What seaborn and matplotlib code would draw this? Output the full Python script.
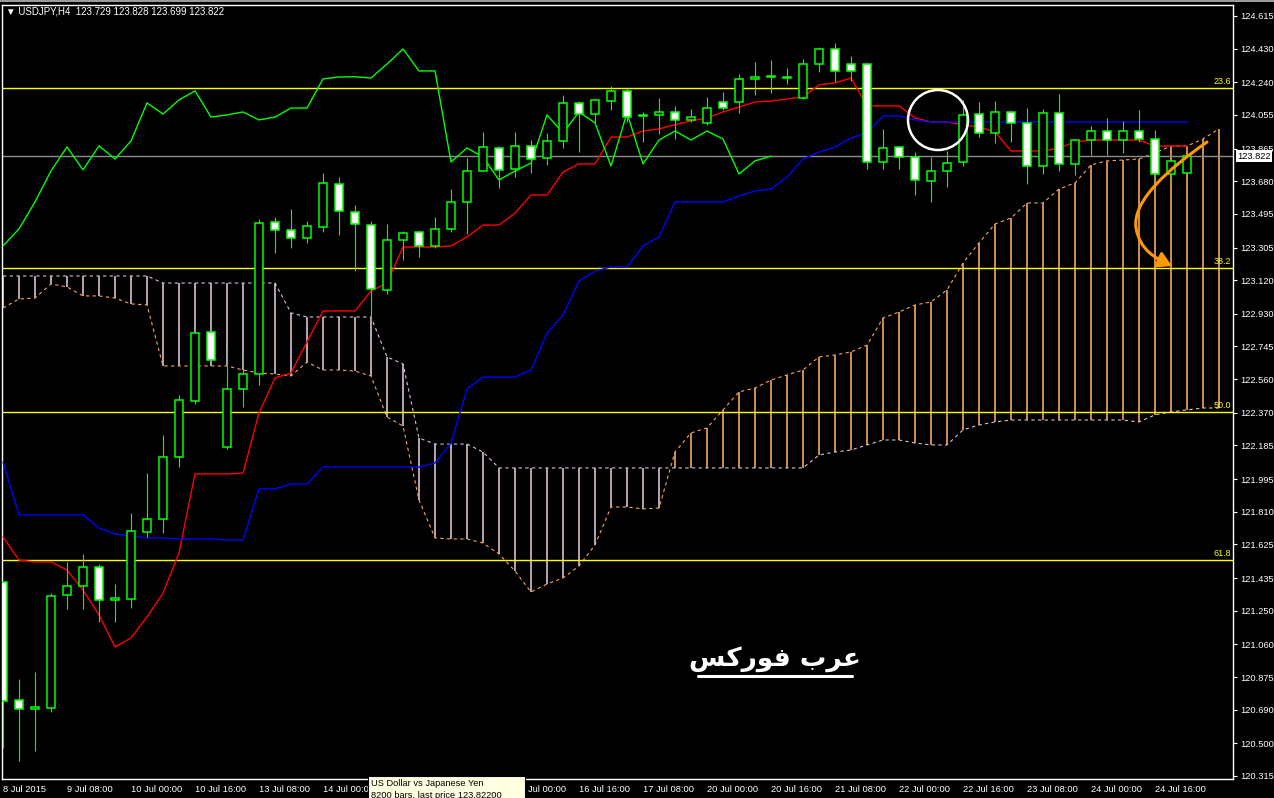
import numpy as np
import pandas as pd
import matplotlib
matplotlib.use('Agg')
import matplotlib.pyplot as plt
import seaborn as sns
from matplotlib.patches import Rectangle, Ellipse, FancyArrowPatch
from matplotlib.path import Path
from matplotlib.transforms import Affine2D, blended_transform_factory

# ---- data (USDJPY H4) ----
opens = [121.413, 120.745, 120.694, 120.700, 121.339, 121.390, 121.497, 121.311, 121.316, 121.695,
         121.769, 122.120, 122.437, 122.827, 122.176, 122.505, 122.589, 123.449, 123.404, 123.359,
         123.421, 123.665, 123.506, 123.432, 123.065, 123.348, 123.393, 123.314, 123.410, 123.563,
         123.738, 123.868, 123.749, 123.880, 123.812, 123.908, 124.123, 124.060, 124.134, 124.191,
         124.049, 124.055, 124.072, 124.027, 124.010, 124.128, 124.128, 124.259, 124.270, 124.271,
         124.151, 124.343, 124.428, 124.343, 124.343, 123.789, 123.874, 123.817, 123.681, 123.738,
         123.789, 124.060, 123.953, 124.072, 124.010, 123.766, 124.066, 123.778, 123.913, 123.964,
         123.913, 123.964, 123.919, 123.721, 123.729]
highs = [121.413, 120.864, 120.903, 121.350, 121.526, 121.571, 121.514, 121.401, 121.803, 122.029,
         122.244, 122.471, 122.855, 122.867, 122.737, 122.703, 123.466, 123.478, 123.523, 123.455,
         123.727, 123.704, 123.546, 123.455, 123.438, 123.398, 123.398, 123.478, 123.636, 123.812,
         123.959, 123.880, 123.959, 123.913, 123.953, 124.168, 124.134, 124.141, 124.219, 124.208,
         124.072, 124.151, 124.106, 124.089, 124.157, 124.185, 124.287, 124.355, 124.366, 124.321,
         124.372, 124.440, 124.462, 124.389, 124.349, 123.976, 123.880, 123.845, 123.817, 123.851,
         124.140, 124.128, 124.134, 124.075, 124.094, 124.089, 124.174, 123.915, 123.993, 124.038,
         124.021, 124.083, 123.970, 123.800, 123.828]
lows = [120.473, 120.400, 120.456, 120.677, 121.260, 121.260, 121.186, 121.186, 121.265, 121.667,
        121.690, 122.063, 122.420, 122.657, 122.165, 122.403, 122.527, 123.274, 123.302, 123.331,
        123.393, 123.376, 123.172, 122.895, 123.042, 123.234, 123.251, 123.302, 123.393, 123.382,
        123.736, 123.642, 123.704, 123.727, 123.772, 123.868, 123.845, 124.010, 124.083, 124.015,
        123.902, 123.947, 123.919, 124.015, 124.000, 124.083, 124.066, 124.168, 124.179, 124.230,
        124.145, 124.298, 124.242, 124.247, 123.749, 123.749, 123.749, 123.602, 123.563, 123.647,
        123.766, 123.930, 123.896, 123.902, 123.665, 123.721, 123.738, 123.715, 123.829, 123.829,
        123.840, 123.902, 123.585, 123.670, 123.699]
closes = [120.739, 120.694, 120.705, 121.333, 121.390, 121.497, 121.311, 121.322, 121.701, 121.769,
          122.120, 122.442, 122.821, 122.669, 122.505, 122.589, 123.444, 123.404, 123.359, 123.427,
          123.670, 123.512, 123.438, 123.070, 123.348, 123.387, 123.314, 123.410, 123.563, 123.738,
          123.874, 123.744, 123.880, 123.806, 123.908, 124.123, 124.060, 124.140, 124.191, 124.043,
          124.055, 124.072, 124.027, 124.043, 124.094, 124.094, 124.259, 124.270, 124.271, 124.264,
          124.343, 124.428, 124.304, 124.304, 123.789, 123.868, 123.817, 123.687, 123.738, 123.783,
          124.055, 123.953, 124.072, 124.010, 123.766, 124.066, 123.778, 123.913, 123.964, 123.913,
          123.964, 123.919, 123.721, 123.795, 123.822]

tenkan = [121.667, 121.537, 121.526, 121.526, 121.480, 121.367, 121.226, 121.045, 121.096, 121.215,
          121.350, 121.577, 122.024, 122.024, 122.024, 122.029, 122.369, 122.567, 122.595, 122.771,
          122.946, 122.946, 122.946, 123.059, 123.104, 123.308, 123.308, 123.308, 123.314, 123.365,
          123.432, 123.432, 123.500, 123.602, 123.602, 123.732, 123.778, 123.778, 123.930, 123.930,
          123.964, 123.976, 124.000, 124.021, 124.038, 124.072, 124.100, 124.128, 124.134, 124.145,
          124.157, 124.225, 124.236, 124.264, 124.106, 124.106, 124.106, 124.038, 124.015, 124.015,
          124.000, 123.987, 123.959, 123.851, 123.851, 123.851, 123.868, 123.902, 123.913, 123.913,
          123.913, 123.913, 123.879, 123.879, 123.879]
kijun = [122.092, 121.792, 121.792, 121.792, 121.792, 121.792, 121.718, 121.684, 121.673, 121.662,
         121.662, 121.656, 121.656, 121.656, 121.650, 121.650, 121.939, 121.939, 121.967, 121.967,
         122.063, 122.063, 122.063, 122.063, 122.063, 122.063, 122.063, 122.086, 122.199, 122.505,
         122.572, 122.572, 122.572, 122.612, 122.821, 122.923, 123.116, 123.172, 123.195, 123.195,
         123.314, 123.365, 123.563, 123.563, 123.563, 123.563, 123.597, 123.625, 123.636, 123.704,
         123.806, 123.845, 123.874, 123.925, 123.953, 124.049, 124.049, 124.027, 124.015, 124.015,
         124.015, 124.015, 124.015, 124.015, 124.015, 124.015, 124.015, 124.015, 124.015, 124.015,
         124.015, 124.015, 124.015, 124.015, 124.015]
span_a = [122.963, 123.014, 123.019, 123.099, 123.082, 123.031, 123.031, 123.019, 122.986, 122.980,
          122.635, 122.635, 122.635, 122.635, 122.635, 122.612, 122.595, 122.589, 122.578, 122.657,
          122.612, 122.612, 122.606, 122.578, 122.346, 122.295, 121.877, 121.662, 121.656, 121.656,
          121.633, 121.571, 121.475, 121.356, 121.401, 121.435, 121.503, 121.622, 121.837, 121.837,
          121.826, 121.831, 122.148, 122.256, 122.284, 122.386, 122.488, 122.510, 122.555, 122.584,
          122.612, 122.686, 122.697, 122.714, 122.753, 122.906, 122.940, 122.980, 122.997, 123.065,
          123.217, 123.331, 123.438, 123.472, 123.557, 123.557, 123.636, 123.670, 123.772, 123.795,
          123.800, 123.806, 123.840, 123.879, 123.879, 123.919, 123.976]
span_b = [123.144, 123.144, 123.144, 123.144, 123.144, 123.144, 123.144, 123.144, 123.144, 123.144,
          123.104, 123.104, 123.104, 123.104, 123.104, 123.104, 123.104, 123.104, 122.935, 122.912,
          122.912, 122.912, 122.912, 122.912, 122.686, 122.646, 122.227, 122.193, 122.193, 122.193,
          122.148, 122.058, 122.058, 122.058, 122.058, 122.058, 122.058, 122.058, 122.058, 122.058,
          122.058, 122.058, 122.058, 122.058, 122.058, 122.058, 122.058, 122.058, 122.058, 122.058,
          122.058, 122.131, 122.148, 122.159, 122.188, 122.216, 122.216, 122.199, 122.188, 122.188,
          122.273, 122.301, 122.318, 122.329, 122.329, 122.329, 122.329, 122.329, 122.329, 122.329,
          122.329, 122.318, 122.358, 122.375, 122.386, 122.397, 122.397]

fib_levels = [124.208, 123.189, 122.374, 121.537]
fib_labels = ['23.6', '38.2', '50.0', '61.8']
bid_price = 123.822

price_ticks = [124.615, 124.430, 124.240, 124.055, 123.865, 123.680, 123.495, 123.305, 123.120,
               122.930, 122.745, 122.560, 122.370, 122.185, 121.995, 121.810, 121.625, 121.435,
               121.250, 121.060, 120.875, 120.690, 120.500, 120.315]
date_labels = ['8 Jul 2015', '9 Jul 08:00', '10 Jul 00:00', '10 Jul 16:00', '13 Jul 08:00',
               '14 Jul 00:00', '14 Jul 16:00', '15 Jul 08:00', '16 Jul 00:00', '16 Jul 16:00',
               '17 Jul 08:00', '20 Jul 00:00', '20 Jul 16:00', '21 Jul 08:00', '22 Jul 00:00',
               '22 Jul 16:00', '23 Jul 08:00', '24 Jul 00:00', '24 Jul 16:00']

# ---- frames ----
df = pd.DataFrame({'bar': np.arange(len(closes)), 'open': opens, 'high': highs,
                   'low': lows, 'close': closes, 'tenkan': tenkan, 'kijun': kijun})
df['chikou'] = df['close'].shift(-26)
cloud = pd.DataFrame({'bar': np.arange(len(span_a)), 'a': span_a, 'b': span_b})

# ---- style ----
sns.set_theme(style='dark', rc={'axes.facecolor': 'black', 'figure.facecolor': 'black',
                                'axes.grid': False})
plt.rcParams['font.family'] = ['Liberation Sans', 'DejaVu Sans']

W, H = 1274, 798
fig = plt.figure(figsize=(W / 100, H / 100), dpi=100)
fig.patch.set_facecolor('black')
ax = fig.add_axes([2 / W, 19 / H, 1231 / W, 774 / H])
ax.set_facecolor('black')
px = Affine2D().scale(1, -1).translate(0, H)  # screen pixels, origin top-left

# cloud histogram + span lines
cols = np.where(cloud['a'] >= cloud['b'], '#F4A460', '#D8BFD8')
ax.vlines(cloud['bar'], cloud['b'], cloud['a'], colors=cols, lw=1.2, zorder=1)
ax.plot(cloud['bar'], cloud['a'], color='#F4A460', lw=0.8, ls=(0, (3, 3)), zorder=1)
ax.plot(cloud['bar'], cloud['b'], color='#D8BFD8', lw=0.8, ls=(0, (3, 3)), zorder=1)

# fibonacci levels + bid line
for lvl, lab in zip(fib_levels, fib_labels):
    ax.axhline(lvl, color='#FFFF00', lw=1, zorder=2)
    ax.text(76.75, lvl + 0.01, lab, color='#FFFF00', ha='right', va='bottom', fontsize=6.5, zorder=6)
ax.axhline(bid_price, color='#8C8C8C', lw=1, zorder=2)

# ichimoku lines
sns.lineplot(data=df, x='bar', y='tenkan', color='#FF0000', lw=1, ax=ax, zorder=3)
sns.lineplot(data=df, x='bar', y='kijun', color='#0000FF', lw=1, ax=ax, zorder=3)
sns.lineplot(data=df.dropna(), x='bar', y='chikou', color='#00FF00', lw=1, ax=ax, zorder=3)

# candles
ax.vlines(df['bar'], df['low'], df['high'], color='#00FF00', lw=0.8, zorder=4)
body_lo = np.minimum(df['open'], df['close'])
body_h = np.maximum(np.abs(df['close'] - df['open']), 0.004)
fills = np.where(df['close'] >= df['open'], 'black', 'white')
ax.bar(df['bar'], body_h, bottom=body_lo, width=0.56, color=fills,
       edgecolor='#00FF00', linewidth=1.1, zorder=5)

# axes
ax.set_xlim(-1 / 16, 1230 / 16)
ax.set_ylim(120.298, 124.677)
ax.set_xlabel('')
ax.set_ylabel('')
for s in ax.spines.values():
    s.set_visible(True)
    s.set_color('white')
    s.set_linewidth(1)
ax.yaxis.tick_right()
ax.set_yticks(price_ticks)
ax.set_yticklabels([f'{v:.3f}' for v in price_ticks])
ax.set_xticks(np.arange(0, 4 * len(date_labels), 4))
ax.set_xticklabels(date_labels)
for t in ax.get_xticklabels():
    t.set_ha('left')
ax.tick_params(axis='both', colors='white', labelsize=6.7, length=3, width=0.8,
               direction='out', pad=2)
ax.tick_params(axis='x', pad=1)

# bid price box on the axis
bt = blended_transform_factory(ax.transAxes, ax.transData)
ax.text(1.0035, bid_price, f'{bid_price:.3f}', transform=bt, ha='left', va='center',
        color='black', fontsize=6.7, clip_on=False, zorder=10,
        bbox=dict(facecolor='white', edgecolor='none', pad=1.2))

# header
fig.add_artist(Rectangle((0, 0), W, 2, transform=px, facecolor='#9A9A9A', edgecolor='none'))
fig.text(6, 12, '\u25BC USDJPY,H4  123.729 123.828 123.699 123.822', transform=px,
         color='white', fontsize=7, va='center', ha='left')

# annotations drawn on the chart
fig.add_artist(Ellipse((938, 120), 60, 60, transform=px, facecolor='none',
                       edgecolor='white', lw=1.8, zorder=8))
verts = [(1207, 142), (1170, 168), (1132, 200), (1136, 228),
         (1140, 250), (1155, 258), (1172, 266)]
codes = [Path.MOVETO] + [Path.CURVE4] * 6
fig.add_artist(FancyArrowPatch(path=Path(verts, codes), transform=px,
                               arrowstyle='-|>,head_length=0.6,head_width=0.35',
                               mutation_scale=14, color='#FF9900', lw=2.2, zorder=8))

# site name (arabic, presentation forms in visual order)
fig.text(775, 660, '\uFEB2\uFEDB\uFEAD\uFEEE\uFED3 \uFE8F\uFEAE\uFECB', transform=px,
         color='white', fontsize=19, fontweight='bold', ha='center', va='center',
         family=['DejaVu Sans'])
fig.add_artist(plt.Line2D([698, 852], [676, 676], transform=px, color='white', lw=2.2))

# tooltip at the bottom (covers a few date labels, as on the screen)
fig.add_artist(Rectangle((368, 776), 157, 24, transform=px, facecolor='#FFFFE1',
                         edgecolor='black', lw=0.8, zorder=9))
fig.text(371, 784, 'US Dollar vs Japanese Yen', transform=px, color='black',
         fontsize=6.7, va='center', zorder=10)
fig.text(371, 796, '8200 bars, last price 123.82200', transform=px, color='black',
         fontsize=6.7, va='center', zorder=10)

fig.savefig('out.png', dpi=100, facecolor='black')
